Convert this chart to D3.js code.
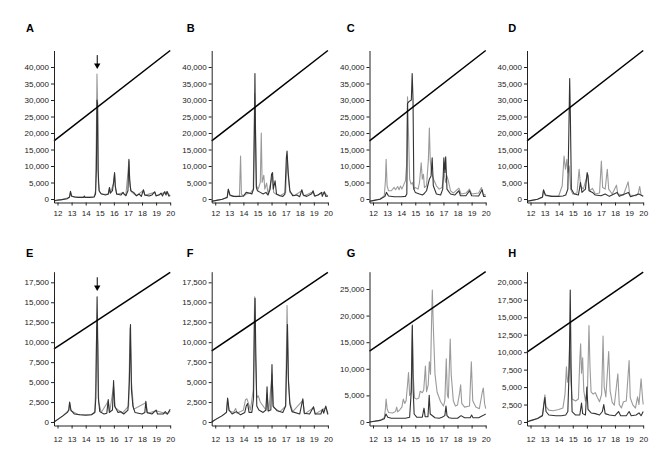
<!DOCTYPE html>
<html><head><meta charset="utf-8">
<script src="https://cdn.jsdelivr.net/npm/d3@7"></script>
<style>html,body{margin:0;padding:0;background:#fff;}svg{display:block;}</style>
</head><body>
<svg id="chart" width="671" height="457"></svg>
<script>
// ---------------- DATA ----------------
const panelLabels = ["A","B","C","D","E","F","G","H"];
const xTicks = [12,13,14,15,16,17,18,19,20];
const yTicksTop = [0,5000,10000,15000,20000,25000,30000,35000,40000];
const yTicksEF = [0,2500,5000,7500,10000,12500,15000,17500];
const yTicksG = [0,5000,10000,15000,20000,25000];
const yTicksH = [0,2500,5000,7500,10000,12500,15000,17500,20000];
const yMaxes = [45000,45000,45000,45000,18830,18830,28250,21520];
const xDomain = [11.75, 20];

// gradient lines [start, end] as [time, value]
const gradients = [
  [[11.75,17600],[20,45000]], [[11.75,17600],[20,45000]],
  [[11.75,17600],[20,45000]], [[11.75,17600],[20,45000]],
  [[11.75,9150],[20,18750]],  [[11.75,8900],[20,18750]],
  [[11.75,13300],[20,28250]], [[11.75,10000],[20,21450]]
];
// arrows: panel index, time, top value, tip value
const arrows = [[0,14.82,43600,39400],[4,14.82,18130,16400]];

const A_dark = [[11.75,-600],[11.9,-400],[12.3,-200],[12.7,100],[12.85,600],[12.92,2300],[13.0,900],[13.2,600],[13.5,500],[13.85,500],[13.9,900],[13.95,500],[14.3,500],[14.6,600],[14.7,1500],[14.76,9000],[14.8,30000],[14.84,29000],[14.88,9000],[14.95,2500],[15.1,1600],[15.4,1200],[15.6,1500],[15.69,3500],[15.75,1800],[15.9,2500],[15.98,5000],[16.05,8000],[16.1,4000],[16.2,1500],[16.5,1200],[16.65,2000],[16.72,1500],[16.85,1000],[17.0,2500],[17.07,12000],[17.12,6000],[17.2,2500],[17.4,2000],[17.6,1000],[17.8,1500],[17.95,800],[18.1,2800],[18.2,1200],[18.5,900],[18.7,1200],[18.9,2200],[19.0,1000],[19.2,1200],[19.35,1800],[19.45,900],[19.6,2200],[19.7,1200],[19.78,2300],[19.9,900],[20.0,1000]];
const A_light = [[11.75,-600],[12.3,-200],[12.85,500],[12.92,2100],[13.0,800],[13.5,500],[14.3,500],[14.6,700],[14.7,2500],[14.76,20000],[14.8,37900],[14.85,28000],[14.9,5000],[14.98,2200],[15.1,1500],[15.6,1400],[15.69,3300],[15.75,1700],[15.98,4800],[16.05,7500],[16.12,3000],[16.2,1400],[16.65,1900],[16.85,1000],[17.07,11500],[17.14,4000],[17.25,2200],[17.6,1000],[18.1,2600],[18.2,1100],[18.9,2000],[19.0,900],[19.6,2000],[19.78,2100],[20.0,900]];

const B_dark = [[11.75,-700],[12.0,-500],[12.5,-100],[12.85,500],[12.93,3000],[13.05,1200],[13.3,800],[13.7,800],[14.0,900],[14.2,2000],[14.4,1800],[14.6,1500],[14.72,3000],[14.78,20000],[14.82,38000],[14.86,20000],[14.92,3500],[15.0,2500],[15.2,2000],[15.4,1500],[15.6,2000],[15.75,1200],[15.9,3000],[16.0,7500],[16.07,8000],[16.12,3000],[16.25,5500],[16.35,1500],[16.6,1000],[16.8,800],[16.95,1500],[17.05,12500],[17.1,14500],[17.18,8000],[17.3,2500],[17.5,1000],[17.8,1200],[18.0,700],[18.15,2800],[18.25,1200],[18.5,800],[18.85,1600],[18.95,2500],[19.05,900],[19.3,1200],[19.55,2000],[19.6,800],[19.75,2200],[19.85,800],[20.0,900]];
const B_light = [[11.75,-700],[12.5,-100],[12.85,400],[12.93,2800],[13.05,1000],[13.5,700],[13.72,900],[13.8,13000],[13.86,1500],[14.0,800],[14.2,1500],[14.5,1800],[14.7,3000],[14.8,32000],[14.85,25000],[14.92,4000],[15.05,3000],[15.2,5000],[15.27,20000],[15.33,5000],[15.45,7200],[15.52,3000],[15.65,4800],[15.75,1500],[16.0,6000],[16.07,7000],[16.15,2000],[16.3,1500],[16.6,1000],[17.0,2000],[17.1,13000],[17.2,6000],[17.3,2000],[17.6,1000],[18.15,2500],[18.3,900],[18.95,2200],[19.1,800],[19.6,1800],[19.75,2000],[20.0,800]];

const C_dark = [[11.75,-700],[12.0,-500],[12.5,-100],[12.85,800],[12.95,2000],[13.1,900],[13.5,700],[14.0,700],[14.3,800],[14.4,1500],[14.45,29000],[14.55,29500],[14.72,30000],[14.78,38000],[14.84,30000],[14.9,3000],[15.0,2000],[15.3,1500],[15.5,1200],[15.6,1500],[15.8,2500],[16.0,6000],[16.12,7000],[16.2,12500],[16.28,4000],[16.5,1500],[16.8,1200],[16.95,3000],[17.03,12500],[17.1,8000],[17.16,12800],[17.25,3000],[17.5,1500],[17.8,1200],[18.1,2500],[18.2,1000],[18.6,1000],[18.85,2500],[19.0,1000],[19.5,900],[19.75,2800],[19.85,800],[20.0,800]];
const C_light = [[11.75,-700],[12.5,0],[12.8,1000],[12.88,5500],[12.93,12000],[13.0,4000],[13.1,2500],[13.3,2500],[13.5,3500],[13.6,2800],[13.75,3800],[13.85,2800],[13.95,3900],[14.05,3000],[14.2,4500],[14.3,5500],[14.38,10000],[14.45,31000],[14.52,20000],[14.6,6000],[14.7,4500],[14.8,5000],[14.9,3000],[15.0,3500],[15.2,3000],[15.3,5000],[15.42,11000],[15.5,6000],[15.58,7500],[15.65,3500],[15.8,4000],[15.93,12000],[16.0,21500],[16.06,12000],[16.15,8000],[16.3,6000],[16.5,4000],[16.7,3000],[16.9,3500],[17.05,8000],[17.15,5000],[17.25,7000],[17.35,5500],[17.5,2500],[17.7,1800],[18.1,3300],[18.25,1500],[18.6,1800],[18.85,3000],[19.0,1500],[19.5,1800],[19.7,3500],[19.8,1500],[20.0,1200]];

const D_dark = [[11.75,-700],[12.0,-500],[12.5,-100],[12.85,600],[12.92,2800],[13.05,1200],[13.5,800],[14.0,800],[14.3,900],[14.5,1200],[14.65,3000],[14.72,20000],[14.78,36500],[14.83,25000],[14.9,3000],[15.1,1500],[15.4,1200],[15.55,5000],[15.65,2000],[15.9,3000],[16.02,8000],[16.08,7000],[16.15,2500],[16.4,2000],[16.6,1200],[17.0,1000],[17.3,1500],[17.6,800],[18.15,2000],[18.3,800],[18.95,2000],[19.1,700],[19.7,1500],[20.0,800]];
const D_light = [[11.75,-700],[12.5,-100],[12.85,500],[12.92,2500],[13.1,1000],[13.6,800],[14.0,900],[14.25,4000],[14.38,13000],[14.48,9000],[14.58,12000],[14.65,8000],[14.75,10000],[14.85,3000],[15.0,1500],[15.3,1800],[15.45,9000],[15.55,4000],[15.75,3000],[15.95,6000],[16.05,7500],[16.2,2500],[16.4,3200],[16.6,1500],[16.9,1800],[17.03,11500],[17.12,3500],[17.3,3000],[17.45,9000],[17.55,3000],[17.8,1500],[18.1,4200],[18.2,1500],[18.6,1200],[18.93,5200],[19.05,1200],[19.5,1000],[19.65,1800],[19.75,3800],[19.85,1200],[20.0,900]];

const E_dark = [[11.75,0],[12.0,300],[12.4,800],[12.7,1200],[12.8,1500],[12.86,2500],[12.95,1500],[13.2,1000],[13.6,900],[14.0,850],[14.4,900],[14.65,1200],[14.72,3000],[14.78,12000],[14.81,15700],[14.84,12000],[14.9,3000],[15.0,1300],[15.3,1000],[15.5,1100],[15.6,2800],[15.68,1200],[15.9,1500],[15.98,5200],[16.05,2000],[16.3,1200],[16.5,1300],[16.7,1000],[17.0,1500],[17.1,5000],[17.18,12200],[17.25,4000],[17.35,2000],[17.5,1200],[18.0,1000],[18.2,1200],[18.27,2600],[18.35,1200],[18.7,1000],[19.0,1500],[19.1,1000],[19.5,1000],[19.65,1300],[19.8,1000],[20.0,1600]];
const E_light = [[11.75,0],[12.4,800],[12.8,1500],[12.86,2400],[12.95,1400],[13.5,900],[14.4,900],[14.65,1300],[14.72,5000],[14.78,11900],[14.86,10000],[14.92,2500],[15.1,1200],[15.6,2600],[15.7,1200],[15.98,4500],[16.1,1800],[16.6,1100],[17.05,2000],[17.15,11800],[17.25,5000],[17.4,1600],[18.27,2400],[18.4,1100],[19.0,1400],[19.8,1000],[20.0,1400]];

const F_dark = [[11.75,0],[12.0,300],[12.5,800],[12.8,1200],[12.88,3000],[12.98,1500],[13.2,1000],[13.5,1300],[13.8,900],[14.1,1200],[14.2,2000],[14.3,2300],[14.4,1200],[14.6,1200],[14.72,3000],[14.78,12000],[14.83,15500],[14.87,10000],[14.95,2000],[15.1,1500],[15.4,1200],[15.6,1500],[15.68,4400],[15.75,1400],[15.95,1500],[16.03,7200],[16.1,2000],[16.4,1400],[16.8,1200],[17.0,2000],[17.08,8000],[17.13,12200],[17.2,5000],[17.3,2200],[17.45,1300],[18.0,1000],[18.22,2900],[18.32,1100],[18.7,1000],[18.98,1900],[19.1,1000],[19.5,1000],[19.62,1600],[19.7,1100],[19.85,2000],[20.0,1000]];
const F_light = [[11.75,0],[12.5,800],[12.8,1200],[12.88,2800],[12.98,1400],[13.3,1200],[13.45,1700],[13.55,1100],[13.8,1300],[14.0,1500],[14.15,2800],[14.25,2900],[14.35,2400],[14.5,1500],[14.7,4000],[14.8,15700],[14.86,8000],[14.95,3000],[15.05,3300],[15.2,2500],[15.4,2000],[15.6,1500],[15.68,3500],[15.8,1300],[16.03,6000],[16.15,1800],[16.6,1300],[17.0,2000],[17.1,14600],[17.18,6000],[17.3,2500],[17.5,1300],[18.22,2700],[18.35,1000],[18.98,1800],[19.1,1000],[19.85,1800],[20.0,900]];

const G_dark = [[11.75,0],[12.0,100],[12.5,300],[12.8,600],[12.92,1500],[13.05,900],[13.3,700],[13.8,700],[14.3,700],[14.6,900],[14.72,6000],[14.79,18200],[14.85,6000],[14.92,1500],[15.1,900],[15.5,900],[15.62,2600],[15.7,1000],[15.9,1000],[15.99,5000],[16.06,1500],[16.4,800],[16.7,700],[16.9,900],[17.1,1200],[17.18,3000],[17.25,1200],[17.4,800],[17.6,700],[18.0,700],[18.25,1200],[18.5,800],[18.9,800],[19.0,1300],[19.1,800],[19.5,800],[19.8,1200],[20.0,1500]];
const G_light = [[11.75,0],[12.5,300],[12.8,800],[12.88,2500],[12.93,4300],[13.0,2500],[13.1,1800],[13.4,1700],[13.6,2000],[13.68,2800],[13.75,1900],[13.9,2300],[14.05,2800],[14.15,4300],[14.25,3500],[14.35,4000],[14.45,7000],[14.52,9300],[14.6,5000],[14.7,5500],[14.79,18000],[14.85,9000],[14.95,4500],[15.1,4300],[15.25,4500],[15.35,5800],[15.5,5500],[15.6,6000],[15.72,10500],[15.8,5700],[15.92,7000],[16.0,11300],[16.08,9000],[16.15,18000],[16.21,24800],[16.28,18000],[16.4,9000],[16.55,5600],[16.8,3800],[17.0,3000],[17.1,4000],[17.2,11900],[17.28,5000],[17.35,4500],[17.48,15600],[17.55,9000],[17.7,4000],[17.85,3000],[18.0,3200],[18.15,5500],[18.22,7000],[18.3,3500],[18.5,2800],[18.85,3000],[18.98,11300],[19.08,4000],[19.3,2800],[19.55,2500],[19.75,5500],[19.83,6400],[19.92,3500],[20.0,2500]];

const H_dark = [[11.75,0],[12.0,200],[12.5,500],[12.85,900],[12.95,2500],[13.02,3500],[13.1,1500],[13.3,1000],[13.8,900],[14.2,900],[14.5,1000],[14.65,1500],[14.75,8000],[14.82,18900],[14.88,8000],[14.95,1500],[15.2,1000],[15.5,1000],[15.62,2700],[15.7,1200],[15.9,1000],[16.0,5000],[16.08,1800],[16.3,1300],[16.6,1200],[16.9,1000],[17.1,1500],[17.2,2500],[17.3,1200],[17.6,1000],[18.0,900],[18.25,1500],[18.4,900],[18.8,900],[19.0,1500],[19.15,900],[19.5,1000],[19.7,1300],[19.85,900],[20.0,1500]];
const H_light = [[11.75,0],[12.5,500],[12.85,1000],[12.95,2800],[13.02,3900],[13.1,2200],[13.3,1700],[13.6,1600],[14.0,1800],[14.3,2000],[14.45,4000],[14.55,7900],[14.62,5700],[14.7,6500],[14.8,12000],[14.86,6000],[14.95,3300],[15.2,3000],[15.4,3300],[15.5,9000],[15.56,11200],[15.62,7000],[15.7,9200],[15.78,4500],[15.9,3000],[16.05,5000],[16.15,13800],[16.22,8000],[16.3,4300],[16.45,4000],[16.6,4200],[16.75,3500],[16.9,2900],[17.05,4000],[17.15,12300],[17.23,5000],[17.35,3600],[17.55,10100],[17.65,4500],[17.8,2800],[17.95,2400],[18.2,6900],[18.3,2500],[18.45,2000],[18.6,2900],[18.8,3000],[19.0,8800],[19.08,3500],[19.25,2500],[19.45,2000],[19.6,3600],[19.7,2500],[19.85,6200],[19.95,3500],[20.0,2500]];

const darkTraces = [A_dark,B_dark,C_dark,D_dark,E_dark,F_dark,G_dark,H_dark];
const lightTraces = [A_light,B_light,C_light,D_light,E_light,F_light,G_light,H_light];
const yTickSets = [yTicksTop,yTicksTop,yTicksTop,yTicksTop,yTicksEF,yTicksEF,yTicksG,yTicksH];

// ---------------- LAYOUT ----------------
const colX = [54, 211.7, 369.5, 527];
const rows = [{top:50.5, bottom:202.5, labelY:32.3, xPad:5},{top:271.7, bottom:425.5, labelY:257.3, xPad:8}];
const labelX = [26, 186.7, 346.7, 508.3];
const plotW = 116.2;
const FONT = "Liberation Sans, Arial, Helvetica, sans-serif";

const svg = d3.select("#chart");

panelLabels.forEach((lab, i) => {
  const row = rows[i < 4 ? 0 : 1];
  const col = i % 4;
  const ax = colX[col];
  const zeroPx = row.bottom - 3.5;
  const y0 = d3.scaleLinear().domain([0, yMaxes[i]]).range([zeroPx, row.top]);
  const y = d3.scaleLinear().domain([y0.invert(row.bottom), yMaxes[i]]).range([row.bottom, row.top]);
  const x = d3.scaleLinear().domain(xDomain).range([ax, ax + plotW]);
  const g = svg.append("g");

  const line = d3.line().x(d => x(d[0])).y(d => y(d[1]));
  g.append("path").datum(lightTraces[i]).attr("d", line)
    .attr("fill","none").attr("stroke","#9a9a9a").attr("stroke-width",1.1).attr("stroke-linejoin","round");
  g.append("path").datum(darkTraces[i]).attr("d", line)
    .attr("fill","none").attr("stroke","#333").attr("stroke-width",1.1).attr("stroke-linejoin","round");

  g.append("path").datum(gradients[i]).attr("d", line)
    .attr("fill","none").attr("stroke","#000").attr("stroke-width",1.5);

  const yAxis = g.append("g").attr("transform", `translate(${ax},0)`)
    .call(d3.axisLeft(y).tickValues(yTickSets[i]).tickFormat(d3.format(",")).tickSize(3).tickSizeOuter(0).tickPadding(2));
  const xAxis = g.append("g").attr("transform", `translate(0,${row.bottom})`)
    .call(d3.axisBottom(x).tickValues(xTicks).tickFormat(d3.format("d")).tickSize(3).tickSizeOuter(0).tickPadding(row.xPad));
  [yAxis, xAxis].forEach(a => {
    a.selectAll("text").attr("font-family", FONT).attr("font-size", 8).attr("fill", "#222");
    a.selectAll("path,line").attr("stroke", "#222");
  });

  g.append("text").attr("x", labelX[col]).attr("y", row.labelY).text(lab)
    .attr("font-family", FONT).attr("font-weight","bold").attr("font-size", 11).attr("fill","#000");

  arrows.filter(a => a[0] === i).forEach(a => {
    const ax2 = x(a[1]), yt = y(a[2]), yp = y(a[3]);
    g.append("line").attr("x1", ax2).attr("x2", ax2).attr("y1", yt).attr("y2", yp - 4)
      .attr("stroke","#000").attr("stroke-width",1);
    g.append("path").attr("d", `M${ax2-3.2},${yp-5.5}L${ax2+3.2},${yp-5.5}L${ax2},${yp}Z`).attr("fill","#000");
  });
});
</script>
</body></html>
